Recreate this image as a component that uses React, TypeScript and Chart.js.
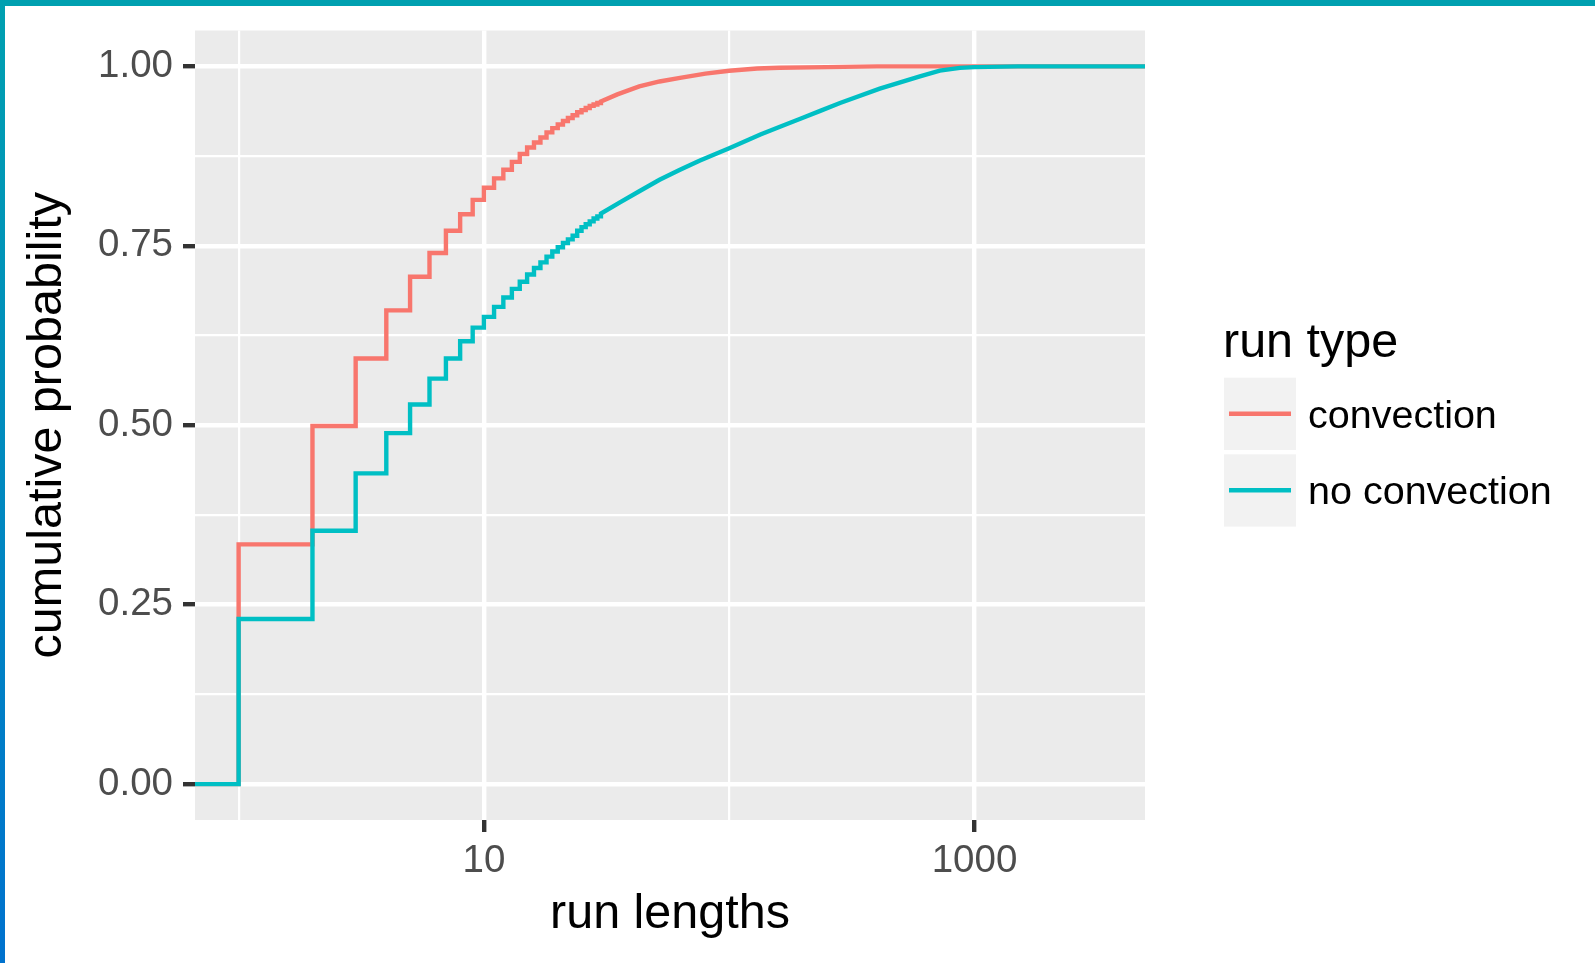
import React, { useEffect, useRef } from "react";
import { Chart, registerables } from "chart.js";

Chart.register(...registerables);

// ---------- data ----------
const X_MIN = 0.664;
const X_MAX = 4955;

// integer run lengths where the ECDF visibly steps
const STEP_X = [
  1, 2, 3, 4, 5, 6, 7, 8, 9, 10, 11, 12, 13, 14, 15, 16, 17, 18, 19, 20, 21, 22,
  23, 24, 25, 26, 27, 28, 29, 30,
];
const CONV_STEP_Y = [
  0.334, 0.499, 0.593, 0.66, 0.707, 0.74, 0.771, 0.794, 0.814, 0.831, 0.844,
  0.856, 0.867, 0.878, 0.887, 0.894, 0.901, 0.908, 0.914, 0.919, 0.924, 0.928,
  0.932, 0.936, 0.939, 0.942, 0.945, 0.947, 0.949, 0.951,
];
const NOCONV_STEP_Y = [
  0.23, 0.353, 0.433, 0.489, 0.529, 0.565, 0.593, 0.617, 0.636, 0.651, 0.665,
  0.678, 0.69, 0.7, 0.71, 0.719, 0.727, 0.735, 0.742, 0.748, 0.754, 0.759,
  0.764, 0.771, 0.776, 0.78, 0.784, 0.788, 0.791, 0.795,
];
// longer runs, where the steps are too fine to see
const CONV_TAIL_X = [35, 43, 52, 63, 80, 100, 130, 160, 250, 400];
const CONV_TAIL_Y = [0.961, 0.972, 0.979, 0.984, 0.99, 0.994, 0.997, 0.998, 0.999, 1.0];
const NOCONV_TAIL_X = [
  36, 43, 52, 63, 76, 100, 134, 161, 195, 235, 283, 411, 599, 722, 872, 1000, 1500,
];
const NOCONV_TAIL_Y = [
  0.811, 0.826, 0.842, 0.856, 0.869, 0.886, 0.905, 0.916, 0.927, 0.938, 0.949,
  0.969, 0.986, 0.994, 0.998, 0.999, 1.0,
];

const SERIES_LABELS = ["convection", "no convection"];
const SERIES_COLORS = ["#F8766D", "#00BFC4"];
const LEGEND_TITLE = "run type";
const X_TITLE = "run lengths";
const Y_TITLE = "cumulative probability";

const X_TICKS = [1, 10, 100, 1000];
const X_LABELED = [10, 1000];
const Y_TICKS = [0, 0.125, 0.25, 0.375, 0.5, 0.625, 0.75, 0.875, 1];
const Y_LABELED = [0, 0.25, 0.5, 0.75, 1];

const FONT = '"Liberation Sans", Arial, Helvetica, sans-serif';

function ecdfPoints(stepY: number[], tailX: number[], tailY: number[]) {
  const pts: { x: number; y: number }[] = [{ x: X_MIN, y: 0 }];
  let prev = 0;
  STEP_X.forEach((x, i) => {
    pts.push({ x, y: prev });
    pts.push({ x, y: stepY[i] });
    prev = stepY[i];
  });
  tailX.forEach((x, i) => pts.push({ x, y: tailY[i] }));
  pts.push({ x: X_MAX, y: tailY[tailY.length - 1] });
  return pts;
}

const panelBg = {
  id: "panelBg",
  beforeDraw(chart: any) {
    const { ctx, chartArea: a } = chart;
    ctx.save();
    ctx.fillStyle = "#EBEBEB";
    ctx.fillRect(a.left, a.top, a.right - a.left, a.bottom - a.top);
    ctx.restore();
  },
};

const ggLegend = {
  id: "ggLegend",
  afterDraw(chart: any) {
    const ctx = chart.ctx;
    ctx.save();
    ctx.fillStyle = "#000000";
    ctx.font = `48.5px ${FONT}`;
    ctx.textAlign = "left";
    ctx.textBaseline = "alphabetic";
    ctx.fillText(LEGEND_TITLE, 1223, 356.7);
    chart.data.datasets.forEach((ds: any, i: number) => {
      const top = 377.7 + i * 76.6;
      const cy = top + 36;
      ctx.fillStyle = "#F2F2F2";
      ctx.fillRect(1224, top, 72, 72.3);
      ctx.strokeStyle = ds.borderColor;
      ctx.lineWidth = 4.4;
      ctx.lineCap = "butt";
      ctx.beginPath();
      ctx.moveTo(1229, cy);
      ctx.lineTo(1291, cy);
      ctx.stroke();
      ctx.fillStyle = "#000000";
      ctx.font = `39.5px ${FONT}`;
      ctx.textBaseline = "middle";
      ctx.fillText(ds.label, 1308, cy + 3);
    });
    ctx.restore();
  },
};

export default function App() {
  const ref = useRef<HTMLCanvasElement | null>(null);

  useEffect(() => {
    if (!ref.current) return;
    const tickFont = { family: FONT, size: 38.5 };
    const titleFont = { family: FONT, size: 48.5 };
    const chart = new Chart(ref.current, {
      type: "scatter",
      data: {
        datasets: [
          {
            label: SERIES_LABELS[0],
            data: ecdfPoints(CONV_STEP_Y, CONV_TAIL_X, CONV_TAIL_Y),
            borderColor: SERIES_COLORS[0],
            backgroundColor: SERIES_COLORS[0],
            showLine: true,
            borderWidth: 4.4,
            pointRadius: 0,
            borderJoinStyle: "miter",
            borderCapStyle: "butt",
            order: 1,
          },
          {
            label: SERIES_LABELS[1],
            data: ecdfPoints(NOCONV_STEP_Y, NOCONV_TAIL_X, NOCONV_TAIL_Y),
            borderColor: SERIES_COLORS[1],
            backgroundColor: SERIES_COLORS[1],
            showLine: true,
            borderWidth: 4.4,
            pointRadius: 0,
            borderJoinStyle: "miter",
            borderCapStyle: "butt",
            order: 0,
          },
        ],
      },
      options: {
        responsive: false,
        animation: false,
        devicePixelRatio: 1,
        layout: { padding: { left: 0, top: 30.5, right: 450, bottom: 0 } },
        plugins: {
          legend: { display: false },
          tooltip: { enabled: false },
        },
        scales: {
          x: {
            type: "logarithmic",
            min: X_MIN,
            max: X_MAX,
            afterBuildTicks: (s: any) => {
              s.ticks = X_TICKS.map((v) => ({ value: v }));
            },
            afterFit: (s: any) => {
              s.height = 143;
              s.paddingLeft = 0;
              s.paddingRight = 0;
            },
            border: { display: false },
            grid: {
              color: "#FFFFFF",
              lineWidth: (c: any) =>
                X_LABELED.includes(c.tick && c.tick.value) ? 4.4 : 2.2,
              tickLength: 12,
              tickWidth: 4.4,
              tickColor: (c: any) =>
                X_LABELED.includes(c.tick && c.tick.value) ? "#333333" : "rgba(0,0,0,0)",
            },
            ticks: {
              autoSkip: false,
              maxRotation: 0,
              padding: 6,
              color: "#4D4D4D",
              font: tickFont,
              callback: (v: any) => (X_LABELED.includes(Number(v)) ? String(v) : ""),
            },
            title: {
              display: true,
              text: X_TITLE,
              color: "#000000",
              font: titleFont,
              padding: { top: 0, bottom: 19 },
            },
          },
          y: {
            type: "linear",
            min: -0.05,
            max: 1.05,
            afterBuildTicks: (s: any) => {
              s.ticks = Y_TICKS.map((v) => ({ value: v }));
            },
            afterFit: (s: any) => {
              s.width = 195;
              s.paddingTop = 0;
              s.paddingBottom = 0;
            },
            border: { display: false },
            grid: {
              color: "#FFFFFF",
              lineWidth: (c: any) =>
                Y_LABELED.includes(c.tick && c.tick.value) ? 4.4 : 2.2,
              tickLength: 12,
              tickWidth: 4.4,
              tickColor: (c: any) =>
                Y_LABELED.includes(c.tick && c.tick.value) ? "#333333" : "rgba(0,0,0,0)",
            },
            ticks: {
              autoSkip: false,
              padding: 10,
              color: "#4D4D4D",
              font: tickFont,
              callback: (v: any) =>
                Y_LABELED.includes(Number(v)) ? Number(v).toFixed(2) : "",
            },
            title: {
              display: true,
              text: Y_TITLE,
              color: "#000000",
              font: titleFont,
              padding: { top: 19, bottom: 0 },
            },
          },
        },
      },
      plugins: [panelBg, ggLegend],
    } as any);
    return () => chart.destroy();
  }, []);

  return (
    <div
      style={{
        position: "absolute",
        left: 0,
        top: 0,
        width: 1595,
        height: 963,
        background: "#FFFFFF",
        overflow: "hidden",
      }}
    >
      <canvas
        ref={ref}
        width={1595}
        height={963}
        style={{ position: "absolute", left: 0, top: 0, display: "block" }}
      />
      <div
        style={{
          position: "absolute",
          left: 0,
          top: 0,
          width: 1595,
          height: 6,
          background: "#00A0B0",
        }}
      />
      <div
        style={{
          position: "absolute",
          left: 0,
          top: 0,
          width: 5,
          height: 963,
          background: "linear-gradient(to bottom, #00A0B0, #0072CE)",
        }}
      />
    </div>
  );
}
